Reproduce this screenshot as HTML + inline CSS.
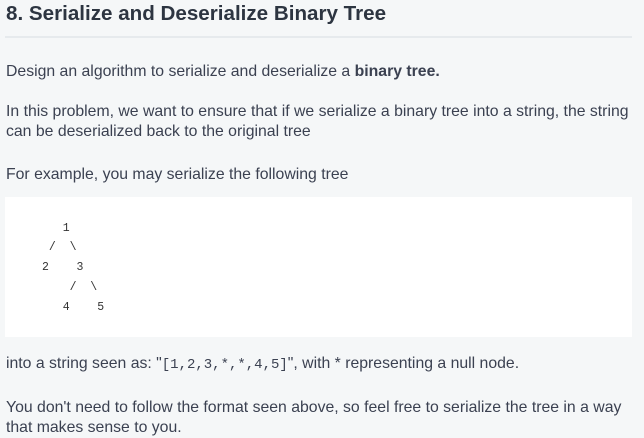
<!DOCTYPE html>
<html><head><meta charset="utf-8"><style>
body{margin:0;width:644px;height:437px;background:#f5f7f8;font-family:"Liberation Sans",sans-serif;color:#3b4151;position:relative;overflow:hidden}
.t{position:absolute;left:6px;white-space:nowrap;font-size:15.8px;line-height:20px}
h1{position:absolute;left:6px;top:2px;margin:0;font-size:20.6px;font-weight:bold;color:#2d3541;white-space:nowrap}
.hr{position:absolute;left:5px;top:36px;width:627px;height:2px;background:#e6eaed}
.code{position:absolute;left:5px;top:197px;width:627px;height:140px;background:#fff}
.c{position:absolute;left:42px;font-family:"Liberation Mono",monospace;font-size:11.5px;line-height:20px;white-space:pre;color:#333}
.m{font-family:"Liberation Mono",monospace;font-size:14px}
</style></head><body>
<h1>8. Serialize and Deserialize Binary Tree</h1>
<div class="hr"></div>
<div class="t" style="top:62px">Design an algorithm to serialize and deserialize a <b>binary tree.</b></div>
<div class="t" style="top:102px">In this problem, we want to ensure that if we serialize a binary tree into a string, the string</div>
<div class="t" style="top:122px">can be deserialized back to the original tree</div>
<div class="t" style="top:165px">For example, you may serialize the following tree</div>
<div class="code"></div>
<div class="c" style="top:219px">   1</div>
<div class="c" style="top:238px"> /  \</div>
<div class="c" style="top:258px">2    3</div>
<div class="c" style="top:278px">    /  \</div>
<div class="c" style="top:298px">   4    5</div>
<div class="t" style="top:354px">into a string seen as: "<span class="m">[1,2,3,*,*,4,5]</span>", with * representing a null node.</div>
<div class="t" style="top:398px">You don't need to follow the format seen above, so feel free to serialize the tree in a way</div>
<div class="t" style="top:418px">that makes sense to you.</div>
</body></html>
